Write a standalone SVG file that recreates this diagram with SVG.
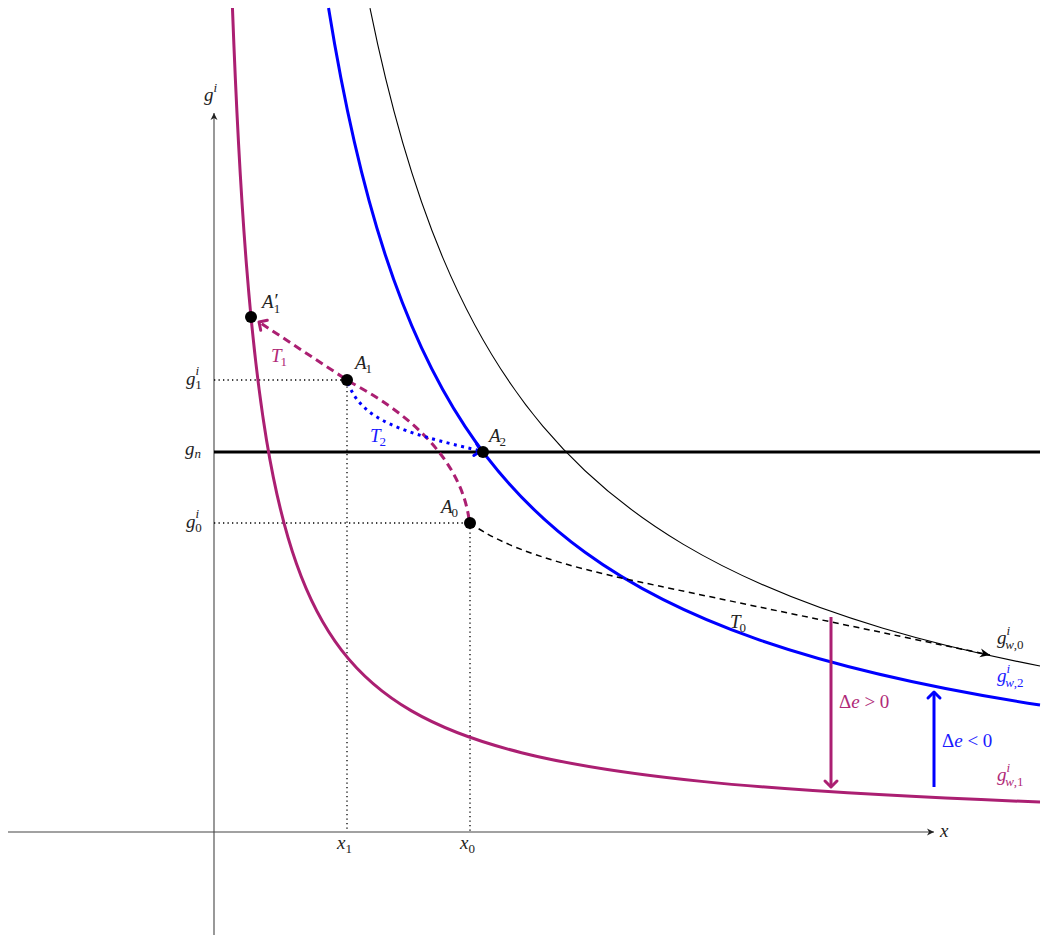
<svg xmlns="http://www.w3.org/2000/svg" width="1044" height="935" viewBox="0 0 1044 935">
<style>
.m{font-family:"Liberation Serif","DejaVu Serif",serif;font-style:italic;font-size:19px;fill:#222}
.r{font-style:normal}
.s{font-size:13px;font-style:normal}
.si{font-size:13px;font-style:italic}
.mag{fill:#b02a78}
.blu{fill:#1a1aff}
.axis{stroke:#444;stroke-width:1.1;fill:none}
.guide{stroke:#000;stroke-width:1.3;stroke-dasharray:1.3 3.2;fill:none}
.curve{fill:none;stroke-linejoin:round;stroke-linecap:butt}
</style>
<defs>
<marker id="axArr" markerUnits="userSpaceOnUse" viewBox="-9 -5 10 10" refX="0" refY="0" markerWidth="10" markerHeight="10" orient="auto" overflow="visible">
<path d="M0,0 L-7,-3.5 L-5,0 L-7,3.5 Z" fill="#222"/>
</marker>
<marker id="blkArr" markerUnits="userSpaceOnUse" viewBox="-12 -6 13 12" refX="0" refY="0" markerWidth="13" markerHeight="12" orient="auto" overflow="visible">
<path d="M0,0 L-10,-4.5 L-7,0 L-10,4.5 Z" fill="#000"/>
</marker>
<marker id="magArr" markerUnits="userSpaceOnUse" viewBox="-10 -8 12 16" refX="0" refY="0" markerWidth="12" markerHeight="16" orient="auto" overflow="visible">
<path d="M-6,-6 Q-2,-2 0,0 Q-2,2 -6,6" fill="none" stroke="#ab1f72" stroke-width="3" stroke-linecap="round" stroke-linejoin="round"/>
</marker>
<marker id="bluArr" markerUnits="userSpaceOnUse" viewBox="-10 -8 12 16" refX="0" refY="0" markerWidth="12" markerHeight="16" orient="auto" overflow="visible">
<path d="M-6,-6 Q-2,-2 0,0 Q-2,2 -6,6" fill="none" stroke="#0000ff" stroke-width="3" stroke-linecap="round" stroke-linejoin="round"/>
</marker>
</defs>
<rect width="1044" height="935" fill="#fff"/>

<g id="axes">
<line class="axis" x1="8" y1="832" x2="934" y2="832" marker-end="url(#axArr)"/>
<line class="axis" x1="214" y1="935" x2="214" y2="113" marker-end="url(#axArr)"/>
<text class="m" x="940" y="837">x</text>
<text class="m" x="204" y="101">g<tspan class="si" dy="-9">i</tspan></text>
<text class="m" x="337" y="849">x<tspan class="s" dy="4">1</tspan></text>
<text class="m" x="460" y="849">x<tspan class="s" dy="4">0</tspan></text>
<text class="m" x="186" y="385">g<tspan class="si" dy="-10">i</tspan><tspan class="s" dx="-4" dy="14">1</tspan></text>
<text class="m" x="185" y="455">g<tspan class="si" dy="3">n</tspan></text>
<text class="m" x="186" y="528">g<tspan class="si" dy="-10">i</tspan><tspan class="s" dx="-4" dy="14">0</tspan></text>
</g>

<g id="guides">
<polyline class="guide" points="214,380 347,380 347,832"/>
<polyline class="guide" points="214,523 470,523 470,832"/>
</g>

<g id="gn-line">
<line x1="214" y1="452" x2="1040" y2="452" stroke="#000" stroke-width="3"/>
</g>

<g id="curve-gw0">
<path class="curve" stroke="#000" stroke-width="1.1" d="M370,8.1 Q399.95,155.6 443,258.1 Q484.38,356.72 543,426.3 Q601.05,495.24 683,544.1 Q765.76,593.36 883,628.2 Q953.38,649.05 1040,666"/>
<text class="m" x="997" y="644">g<tspan class="si" dy="-9">i</tspan><tspan class="si" dx="-5" dy="14">w</tspan><tspan class="s">,0</tspan></text>
</g>

<g id="curve-gw2">
<path class="curve" stroke="#0000ff" stroke-width="3" d="M328.55,8 Q351.85,152.4 385,254 Q418.04,355.15 465,426.4 Q514.09,500.8 585,552.3 Q654.79,603.1 755,638.4 Q868.59,678.43 1040,705"/>
<text class="m blu" x="997" y="682">g<tspan class="si" dy="-9">i</tspan><tspan class="si" dx="-5" dy="14">w</tspan><tspan class="s">,2</tspan></text>
</g>

<g id="curve-gw1">
<path class="curve" stroke="#ab1f72" stroke-width="3" d="M232.45,8 Q238.18,160.5 246.5,265.4 Q254.68,368.5 266.5,439.9 Q278.69,513.5 296.5,563.8 Q314.69,615.25 341.5,650.15 Q369.5,686.6 411.5,710.9 Q455.08,736.12 521.5,752.67 Q591.74,770.17 701.5,781.37 Q827.95,794.28 1040,801.97"/>
<text class="m mag" x="997" y="781">g<tspan class="si" dy="-9">i</tspan><tspan class="si" dx="-5" dy="14">w</tspan><tspan class="s">,1</tspan></text>
</g>

<g id="connectors">
<path d="M470,523 C505,548 560,565 640,582 S880,632 990,655" fill="none" stroke="#000" stroke-width="1.5" stroke-dasharray="6 4.5" marker-end="url(#blkArr)"/>
<path d="M469,519 C462,470 425,422 350,382 L259,322" fill="none" stroke="#ab1f72" stroke-width="3" stroke-dasharray="8 5" marker-end="url(#magArr)"/>
<path d="M348,383 C362,420 400,432 481,451" fill="none" stroke="#0000ff" stroke-width="3" stroke-dasharray="3 4.5" marker-end="url(#bluArr)"/>
<line x1="831" y1="617" x2="831" y2="787" stroke="#ab1f72" stroke-width="3" marker-end="url(#magArr)"/>
<line x1="934" y1="787" x2="934" y2="692" stroke="#0000ff" stroke-width="3" marker-end="url(#bluArr)"/>
<text class="m" x="730" y="628">T<tspan class="s" dx="-1" dy="4">0</tspan></text>
<text class="m mag" x="271" y="362">T<tspan class="s" dx="-1" dy="4">1</tspan></text>
<text class="m blu" x="370" y="442">T<tspan class="s" dx="-1" dy="4">2</tspan></text>
<text class="m mag" x="839" y="708"><tspan class="r">Δ</tspan>e<tspan class="r"> &gt; 0</tspan></text>
<text class="m blu" x="942" y="747"><tspan class="r">Δ</tspan>e<tspan class="r"> &lt; 0</tspan></text>
</g>

<g id="node-A1p">
<circle cx="251" cy="317" r="6" fill="#000"/>
<text class="m" x="262" y="308">A<tspan class="r" dx="1" dy="-1">′</tspan><tspan class="s" dx="-5" dy="6">1</tspan></text>
</g>
<g id="node-A1">
<circle cx="347" cy="380" r="6" fill="#000"/>
<text class="m" x="355" y="369">A<tspan class="s" dx="-1" dy="4">1</tspan></text>
</g>
<g id="node-A2">
<circle cx="483" cy="452" r="6" fill="#000"/>
<text class="m" x="489" y="442">A<tspan class="s" dx="-1" dy="4">2</tspan></text>
</g>
<g id="node-A0">
<circle cx="470" cy="523" r="6" fill="#000"/>
<text class="m" x="441" y="513">A<tspan class="s" dx="-1" dy="4">0</tspan></text>
</g>
</svg>
